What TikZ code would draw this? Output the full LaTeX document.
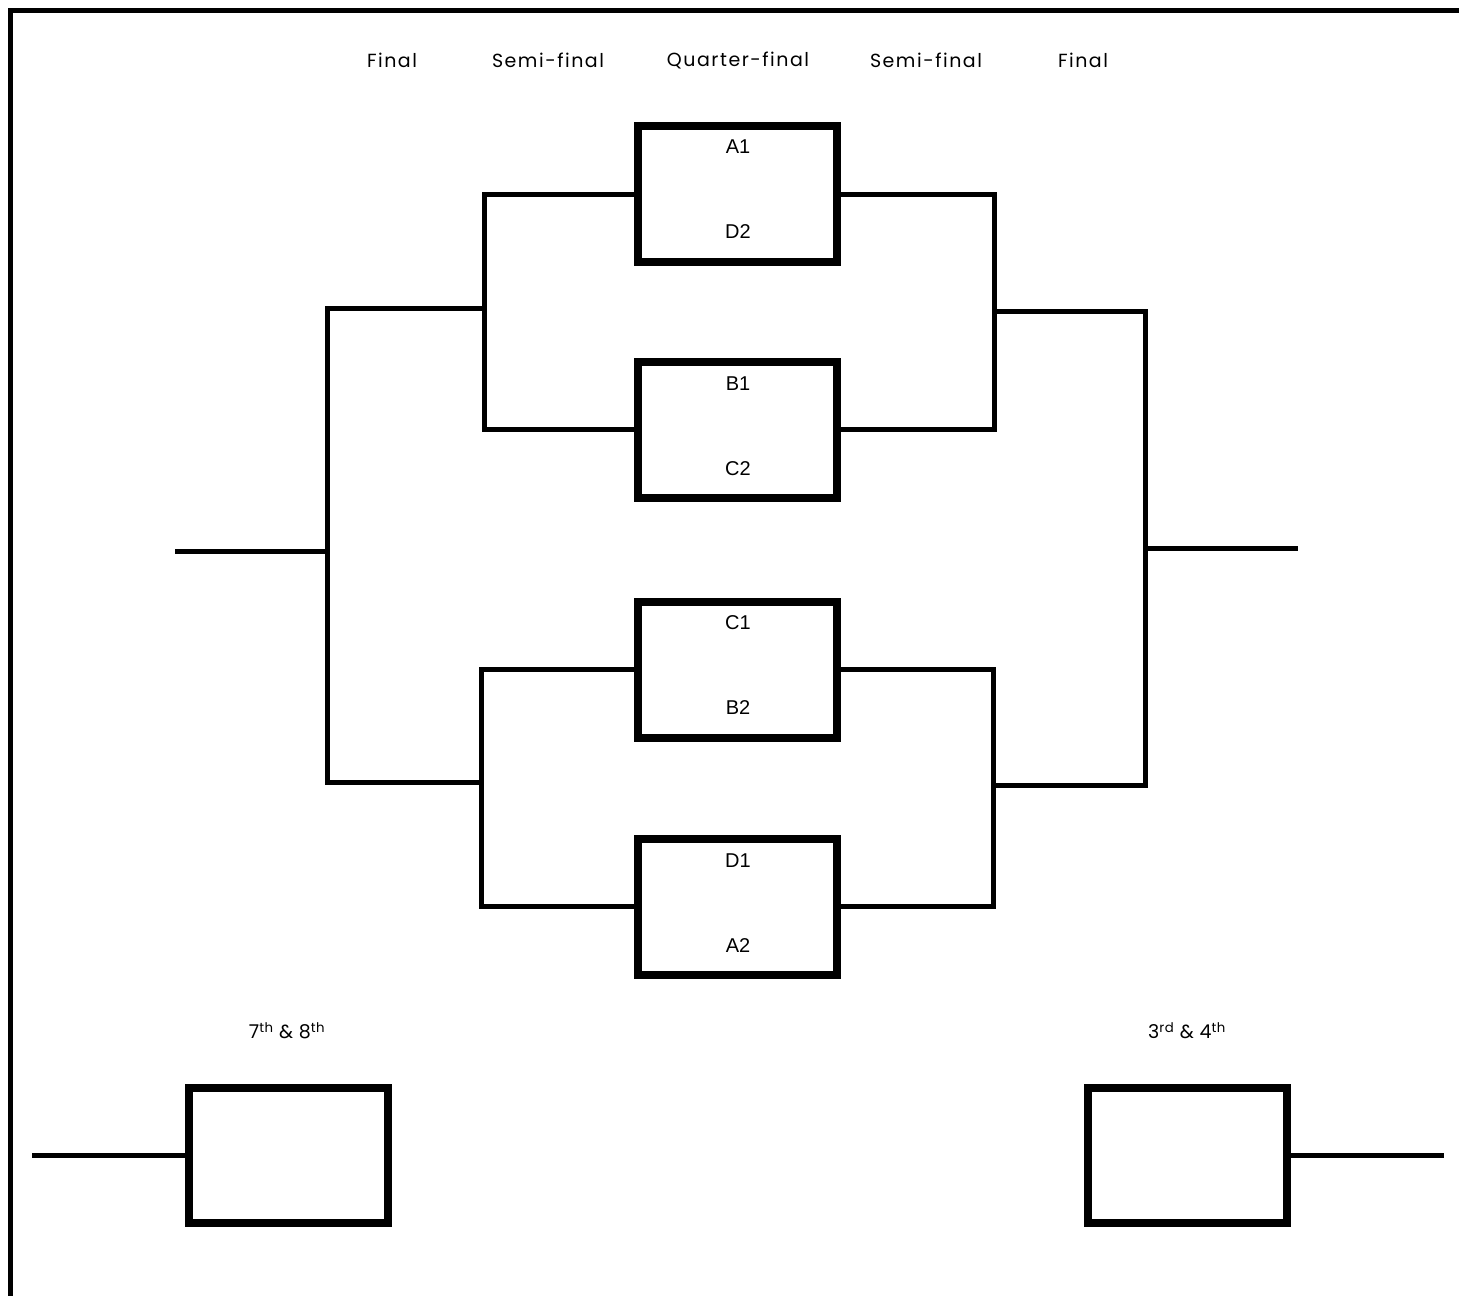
\documentclass[tikz,border=0pt]{standalone}
\usepackage{fontspec}
\setmainfont{Poppins}
\newfontfamily\headfont[LetterSpace=8]{Poppins}
\newfontfamily\rankfont[LetterSpace=3]{Poppins}
\newfontfamily\labfont{Liberation Sans}
\begin{document}
\begin{tikzpicture}[x=1pt,y=-1pt,
  conn/.style={line width=5pt,line join=miter,line cap=butt},
  qbox/.style={draw,line width=8pt,minimum width=199pt,minimum height=136pt,inner sep=0pt},
  rbox/.style={draw,line width=8pt,minimum width=199pt,minimum height=135pt,inner sep=0pt},
  head/.style={font=\headfont\fontsize{19}{22}\selectfont,inner sep=0pt},
  rank/.style={font=\rankfont\fontsize{19}{22}\selectfont,inner sep=0pt},
  blab/.style={font=\labfont\fontsize{20}{23}\selectfont,inner sep=0pt}]
\useasboundingbox (0,0) rectangle (1459,1296);
\fill[white] (0,0) rectangle (1459,1296);
% frame
\draw[line width=5pt] (1459,10) -- (10,10) -- (10,1296);
% headers
\node[head] (h1) at (392,60) {Final};
\node[head] (h2) at (548,60) {Semi-final};
\node[head] (h3) at (738,60) {Quarter-final};
\node[head] (h4) at (926,60) {Semi-final};
\node[head] (h5) at (1083,60) {Final};
% quarter-final boxes
\node[qbox] (q1) at (737.5,194) {};
\node[qbox] (q2) at (737.5,429.5) {};
\node[qbox] (q3) at (737.5,669.5) {};
\node[qbox] (q4) at (737.5,906.5) {};
\node[blab] (t1a) at (738,147) {A1};
\node[blab] (t1b) at (738,232) {D2};
\node[blab] (t2a) at (738,384) {B1};
\node[blab] (t2b) at (738,469) {C2};
\node[blab] (t3a) at (738,623) {C1};
\node[blab] (t3b) at (738,708) {B2};
\node[blab] (t4a) at (738,861) {D1};
\node[blab] (t4b) at (738,946) {A2};
% left bracket
\coordinate (ls1) at (484,308);
\coordinate (lf1) at (327,308);
\coordinate (ls2) at (481,782);
\coordinate (lf2) at (327,782);
\coordinate (lfin) at (327,551);
\coordinate (lend) at (175,551);
\draw[conn] (q1.west) -| (ls1) |- (q2.west);
\draw[conn] (q3.west) -| (ls2) |- (q4.west);
\draw[conn] (ls1) -- (lf1) -- (lf2) -- (ls2);
\draw[conn] (lfin) -- (lend);
% right bracket
\coordinate (rs1) at (994,311);
\coordinate (rf1) at (1145,311);
\coordinate (rs2) at (993,785);
\coordinate (rf2) at (1145,785);
\coordinate (rfin) at (1145,548);
\coordinate (rend) at (1298,548);
\draw[conn] (q1.east) -| (rs1) |- (q2.east);
\draw[conn] (q3.east) -| (rs2) |- (q4.east);
\draw[conn] (rs1) -- (rf1) -- (rf2) -- (rs2);
\draw[conn] (rfin) -- (rend);
% placement matches
\node[rank] (l78) at (287,1031) {7\textsuperscript{th} \& 8\textsuperscript{th}};
\node[rank] (l34) at (1187,1031) {3\textsuperscript{rd} \& 4\textsuperscript{th}};
\node[rbox] (b1) at (288.4,1155.5) {};
\node[rbox] (b2) at (1187,1155.5) {};
\coordinate (b1in) at (32,1155.5);
\coordinate (b2out) at (1444,1155.5);
\draw[conn] (b1in) -- (b1.west);
\draw[conn] (b2.east) -- (b2out);
\end{tikzpicture}
\end{document}
